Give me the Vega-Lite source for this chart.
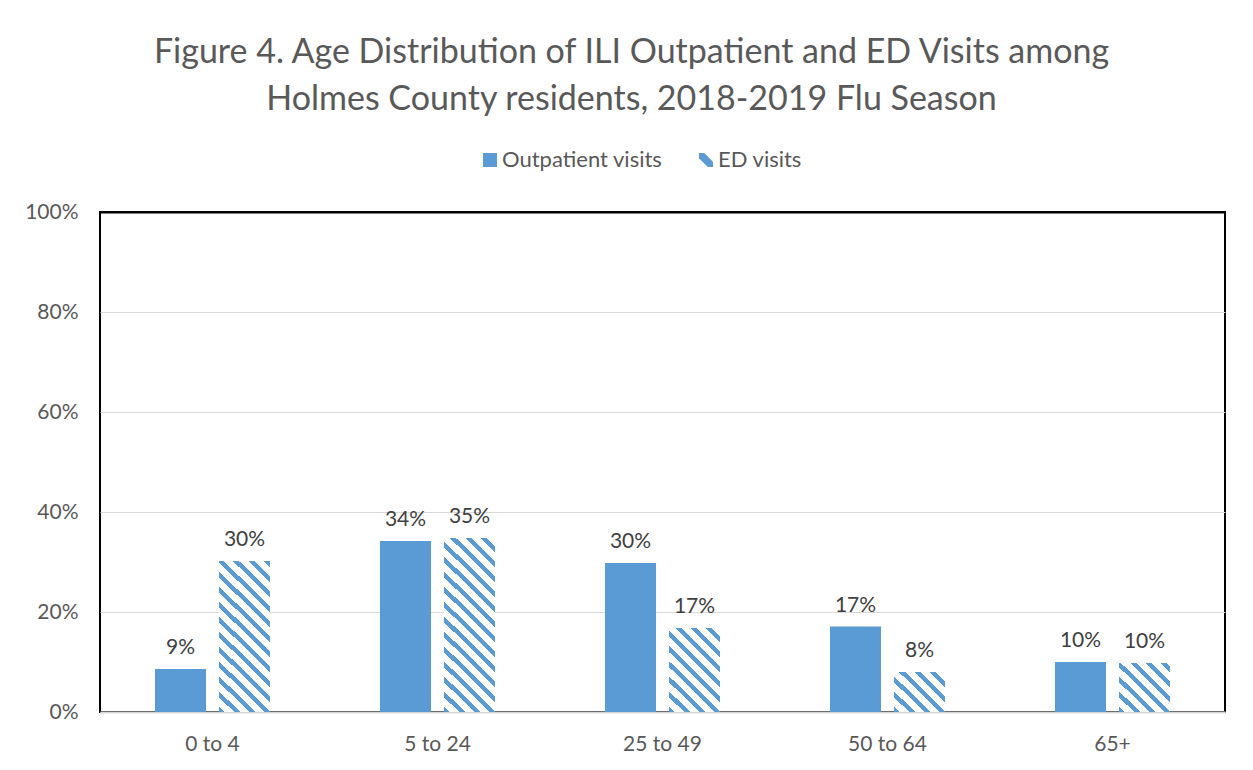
{
  "$schema": "https://vega.github.io/schema/vega-lite/v6.json",
  "width": 1125,
  "height": 500,
  "autosize": {"type": "none"},
  "padding": {"left": 100, "top": 212, "right": 28, "bottom": 58},
  "background": "white",
  "title": {
    "text": ["Figure 4. Age Distribution of ILI Outpatient and ED Visits among", "Holmes County residents, 2018-2019 Flu Season"],
    "anchor": "middle",
    "frame": "group",
    "dx": -31,
    "offset": 32,
    "font": "Lato",
    "fontSize": 34,
    "fontWeight": "normal",
    "color": "#595959",
    "lineHeight": 47
  },
  "data": {
    "values": [
      {"age": "0 to 4", "series": "Outpatient visits", "value": 0.086},
      {"age": "0 to 4", "series": "ED visits", "value": 0.302},
      {"age": "5 to 24", "series": "Outpatient visits", "value": 0.342},
      {"age": "5 to 24", "series": "ED visits", "value": 0.348},
      {"age": "25 to 49", "series": "Outpatient visits", "value": 0.298},
      {"age": "25 to 49", "series": "ED visits", "value": 0.168},
      {"age": "50 to 64", "series": "Outpatient visits", "value": 0.171},
      {"age": "50 to 64", "series": "ED visits", "value": 0.080},
      {"age": "65+", "series": "Outpatient visits", "value": 0.100},
      {"age": "65+", "series": "ED visits", "value": 0.098}
    ]
  },
  "encoding": {
    "x": {
      "field": "age", "type": "nominal",
      "sort": ["0 to 4", "5 to 24", "25 to 49", "50 to 64", "65+"],
      "scale": {"paddingInner": 0, "paddingOuter": 0},
      "axis": {"title": null, "labelAngle": 0, "ticks": false, "domainColor": "#D9D9D9", "domainWidth": 2, "labelPadding": 21, "labelFont": "Lato", "labelFontSize": 21, "labelColor": "#595959"}
    },
    "xOffset": {
      "field": "series", "type": "nominal",
      "sort": ["Outpatient visits", "ED visits"],
      "scale": {"paddingInner": 0.203, "paddingOuter": 0.859}
    },
    "y": {
      "field": "value", "type": "quantitative",
      "scale": {"domain": [0, 1], "nice": false},
      "axis": {"title": null, "format": ".0%", "values": [0, 0.2, 0.4, 0.6, 0.8, 1], "domain": false, "ticks": false,
        "gridColor": {"condition": {"test": "datum.value === 1", "value": "black"}, "value": "#D9D9D9"},
        "gridWidth": {"condition": {"test": "datum.value === 1", "value": 2}, "value": 1},
        "labelPadding": 22, "labelFont": "Lato", "labelFontSize": 21, "labelColor": "#595959"}
    }
  },
  "layer": [
    {
      "mark": {"type": "bar"},
      "encoding": {
        "color": {
          "condition": [
            {"test": "datum.series === 'ED visits' && datum.age === '0 to 4'", "value": {"gradient": "linear", "x1": 0, "y1": 1, "x2": 0.4216, "y2": -0.2483, "stops": [
              {"offset": 0, "color": "#5B9BD5"}, {"offset": 0.028571, "color": "#5B9BD5"}, {"offset": 0.028571, "color": "white"}, {"offset": 0.071429, "color": "white"},
              {"offset": 0.071429, "color": "#5B9BD5"}, {"offset": 0.1, "color": "#5B9BD5"}, {"offset": 0.1, "color": "white"}, {"offset": 0.142857, "color": "white"},
              {"offset": 0.142857, "color": "#5B9BD5"}, {"offset": 0.171429, "color": "#5B9BD5"}, {"offset": 0.171429, "color": "white"}, {"offset": 0.214286, "color": "white"},
              {"offset": 0.214286, "color": "#5B9BD5"}, {"offset": 0.242857, "color": "#5B9BD5"}, {"offset": 0.242857, "color": "white"}, {"offset": 0.285714, "color": "white"},
              {"offset": 0.285714, "color": "#5B9BD5"}, {"offset": 0.314286, "color": "#5B9BD5"}, {"offset": 0.314286, "color": "white"}, {"offset": 0.357143, "color": "white"},
              {"offset": 0.357143, "color": "#5B9BD5"}, {"offset": 0.385714, "color": "#5B9BD5"}, {"offset": 0.385714, "color": "white"}, {"offset": 0.428571, "color": "white"},
              {"offset": 0.428571, "color": "#5B9BD5"}, {"offset": 0.457143, "color": "#5B9BD5"}, {"offset": 0.457143, "color": "white"}, {"offset": 0.5, "color": "white"},
              {"offset": 0.5, "color": "#5B9BD5"}, {"offset": 0.528571, "color": "#5B9BD5"}, {"offset": 0.528571, "color": "white"}, {"offset": 0.571429, "color": "white"},
              {"offset": 0.571429, "color": "#5B9BD5"}, {"offset": 0.6, "color": "#5B9BD5"}, {"offset": 0.6, "color": "white"}, {"offset": 0.642857, "color": "white"},
              {"offset": 0.642857, "color": "#5B9BD5"}, {"offset": 0.671429, "color": "#5B9BD5"}, {"offset": 0.671429, "color": "white"}, {"offset": 0.714286, "color": "white"},
              {"offset": 0.714286, "color": "#5B9BD5"}, {"offset": 0.742857, "color": "#5B9BD5"}, {"offset": 0.742857, "color": "white"}, {"offset": 0.785714, "color": "white"},
              {"offset": 0.785714, "color": "#5B9BD5"}, {"offset": 0.814286, "color": "#5B9BD5"}, {"offset": 0.814286, "color": "white"}, {"offset": 0.857143, "color": "white"},
              {"offset": 0.857143, "color": "#5B9BD5"}, {"offset": 0.885714, "color": "#5B9BD5"}, {"offset": 0.885714, "color": "white"}, {"offset": 0.928571, "color": "white"},
              {"offset": 0.928571, "color": "#5B9BD5"}, {"offset": 0.957143, "color": "#5B9BD5"}, {"offset": 0.957143, "color": "white"}, {"offset": 1, "color": "white"}
            ]}},
            {"test": "datum.series === 'ED visits' && datum.age === '5 to 24'", "value": {"gradient": "linear", "x1": 0, "y1": 1, "x2": 0.349, "y2": -0.1908, "stops": [
              {"offset": 0, "color": "#5B9BD5"}, {"offset": 0.026667, "color": "#5B9BD5"}, {"offset": 0.026667, "color": "white"}, {"offset": 0.066667, "color": "white"},
              {"offset": 0.066667, "color": "#5B9BD5"}, {"offset": 0.093333, "color": "#5B9BD5"}, {"offset": 0.093333, "color": "white"}, {"offset": 0.133333, "color": "white"},
              {"offset": 0.133333, "color": "#5B9BD5"}, {"offset": 0.16, "color": "#5B9BD5"}, {"offset": 0.16, "color": "white"}, {"offset": 0.2, "color": "white"},
              {"offset": 0.2, "color": "#5B9BD5"}, {"offset": 0.226667, "color": "#5B9BD5"}, {"offset": 0.226667, "color": "white"}, {"offset": 0.266667, "color": "white"},
              {"offset": 0.266667, "color": "#5B9BD5"}, {"offset": 0.293333, "color": "#5B9BD5"}, {"offset": 0.293333, "color": "white"}, {"offset": 0.333333, "color": "white"},
              {"offset": 0.333333, "color": "#5B9BD5"}, {"offset": 0.36, "color": "#5B9BD5"}, {"offset": 0.36, "color": "white"}, {"offset": 0.4, "color": "white"},
              {"offset": 0.4, "color": "#5B9BD5"}, {"offset": 0.426667, "color": "#5B9BD5"}, {"offset": 0.426667, "color": "white"}, {"offset": 0.466667, "color": "white"},
              {"offset": 0.466667, "color": "#5B9BD5"}, {"offset": 0.493333, "color": "#5B9BD5"}, {"offset": 0.493333, "color": "white"}, {"offset": 0.533333, "color": "white"},
              {"offset": 0.533333, "color": "#5B9BD5"}, {"offset": 0.56, "color": "#5B9BD5"}, {"offset": 0.56, "color": "white"}, {"offset": 0.6, "color": "white"},
              {"offset": 0.6, "color": "#5B9BD5"}, {"offset": 0.626667, "color": "#5B9BD5"}, {"offset": 0.626667, "color": "white"}, {"offset": 0.666667, "color": "white"},
              {"offset": 0.666667, "color": "#5B9BD5"}, {"offset": 0.693333, "color": "#5B9BD5"}, {"offset": 0.693333, "color": "white"}, {"offset": 0.733333, "color": "white"},
              {"offset": 0.733333, "color": "#5B9BD5"}, {"offset": 0.76, "color": "#5B9BD5"}, {"offset": 0.76, "color": "white"}, {"offset": 0.8, "color": "white"},
              {"offset": 0.8, "color": "#5B9BD5"}, {"offset": 0.826667, "color": "#5B9BD5"}, {"offset": 0.826667, "color": "white"}, {"offset": 0.866667, "color": "white"},
              {"offset": 0.866667, "color": "#5B9BD5"}, {"offset": 0.893333, "color": "#5B9BD5"}, {"offset": 0.893333, "color": "white"}, {"offset": 0.933333, "color": "white"},
              {"offset": 0.933333, "color": "#5B9BD5"}, {"offset": 0.96, "color": "#5B9BD5"}, {"offset": 0.96, "color": "white"}, {"offset": 1, "color": "white"}
            ]}},
            {"test": "datum.series === 'ED visits' && datum.age === '25 to 49'", "value": {"gradient": "linear", "x1": 0, "y1": 1, "x2": 0.713, "y2": -0.1743, "stops": [
              {"offset": 0, "color": "#5B9BD5"}, {"offset": 0.044444, "color": "#5B9BD5"}, {"offset": 0.044444, "color": "white"}, {"offset": 0.111111, "color": "white"},
              {"offset": 0.111111, "color": "#5B9BD5"}, {"offset": 0.155556, "color": "#5B9BD5"}, {"offset": 0.155556, "color": "white"}, {"offset": 0.222222, "color": "white"},
              {"offset": 0.222222, "color": "#5B9BD5"}, {"offset": 0.266667, "color": "#5B9BD5"}, {"offset": 0.266667, "color": "white"}, {"offset": 0.333333, "color": "white"},
              {"offset": 0.333333, "color": "#5B9BD5"}, {"offset": 0.377778, "color": "#5B9BD5"}, {"offset": 0.377778, "color": "white"}, {"offset": 0.444444, "color": "white"},
              {"offset": 0.444444, "color": "#5B9BD5"}, {"offset": 0.488889, "color": "#5B9BD5"}, {"offset": 0.488889, "color": "white"}, {"offset": 0.555556, "color": "white"},
              {"offset": 0.555556, "color": "#5B9BD5"}, {"offset": 0.6, "color": "#5B9BD5"}, {"offset": 0.6, "color": "white"}, {"offset": 0.666667, "color": "white"},
              {"offset": 0.666667, "color": "#5B9BD5"}, {"offset": 0.711111, "color": "#5B9BD5"}, {"offset": 0.711111, "color": "white"}, {"offset": 0.777778, "color": "white"},
              {"offset": 0.777778, "color": "#5B9BD5"}, {"offset": 0.822222, "color": "#5B9BD5"}, {"offset": 0.822222, "color": "white"}, {"offset": 0.888889, "color": "white"},
              {"offset": 0.888889, "color": "#5B9BD5"}, {"offset": 0.933333, "color": "#5B9BD5"}, {"offset": 0.933333, "color": "white"}, {"offset": 1, "color": "white"}
            ]}},
            {"test": "datum.series === 'ED visits' && datum.age === '50 to 64'", "value": {"gradient": "linear", "x1": 0, "y1": 1, "x2": 1.2747, "y2": 0.0002, "stops": [
              {"offset": 0, "color": "#5B9BD5"}, {"offset": 0.057143, "color": "#5B9BD5"}, {"offset": 0.057143, "color": "white"}, {"offset": 0.142857, "color": "white"},
              {"offset": 0.142857, "color": "#5B9BD5"}, {"offset": 0.2, "color": "#5B9BD5"}, {"offset": 0.2, "color": "white"}, {"offset": 0.285714, "color": "white"},
              {"offset": 0.285714, "color": "#5B9BD5"}, {"offset": 0.342857, "color": "#5B9BD5"}, {"offset": 0.342857, "color": "white"}, {"offset": 0.428571, "color": "white"},
              {"offset": 0.428571, "color": "#5B9BD5"}, {"offset": 0.485714, "color": "#5B9BD5"}, {"offset": 0.485714, "color": "white"}, {"offset": 0.571429, "color": "white"},
              {"offset": 0.571429, "color": "#5B9BD5"}, {"offset": 0.628571, "color": "#5B9BD5"}, {"offset": 0.628571, "color": "white"}, {"offset": 0.714286, "color": "white"},
              {"offset": 0.714286, "color": "#5B9BD5"}, {"offset": 0.771429, "color": "#5B9BD5"}, {"offset": 0.771429, "color": "white"}, {"offset": 0.857143, "color": "white"},
              {"offset": 0.857143, "color": "#5B9BD5"}, {"offset": 0.914286, "color": "#5B9BD5"}, {"offset": 0.914286, "color": "white"}, {"offset": 1, "color": "white"}
            ]}},
            {"test": "datum.series === 'ED visits' && datum.age === '65+'", "value": {"gradient": "linear", "x1": 0, "y1": 1, "x2": 1.0706, "y2": -0.0286, "stops": [
              {"offset": 0, "color": "#5B9BD5"}, {"offset": 0.057143, "color": "#5B9BD5"}, {"offset": 0.057143, "color": "white"}, {"offset": 0.142857, "color": "white"},
              {"offset": 0.142857, "color": "#5B9BD5"}, {"offset": 0.2, "color": "#5B9BD5"}, {"offset": 0.2, "color": "white"}, {"offset": 0.285714, "color": "white"},
              {"offset": 0.285714, "color": "#5B9BD5"}, {"offset": 0.342857, "color": "#5B9BD5"}, {"offset": 0.342857, "color": "white"}, {"offset": 0.428571, "color": "white"},
              {"offset": 0.428571, "color": "#5B9BD5"}, {"offset": 0.485714, "color": "#5B9BD5"}, {"offset": 0.485714, "color": "white"}, {"offset": 0.571429, "color": "white"},
              {"offset": 0.571429, "color": "#5B9BD5"}, {"offset": 0.628571, "color": "#5B9BD5"}, {"offset": 0.628571, "color": "white"}, {"offset": 0.714286, "color": "white"},
              {"offset": 0.714286, "color": "#5B9BD5"}, {"offset": 0.771429, "color": "#5B9BD5"}, {"offset": 0.771429, "color": "white"}, {"offset": 0.857143, "color": "white"},
              {"offset": 0.857143, "color": "#5B9BD5"}, {"offset": 0.914286, "color": "#5B9BD5"}, {"offset": 0.914286, "color": "white"}, {"offset": 1, "color": "white"}
            ]}}
          ],
          "field": "series",
          "type": "nominal",
          "scale": {
            "domain": ["Outpatient visits", "ED visits"],
            "range": ["#5B9BD5", "#5B9BD5"]
          }
        }
      }
    },
    {
      "mark": {"type": "point", "filled": true, "opacity": 0},
      "encoding": {
        "color": {"field": "series", "type": "nominal"},
        "shape": {
          "field": "series", "type": "nominal",
          "scale": {
            "domain": ["Outpatient visits", "ED visits"],
            "range": ["square", "M-1,-1L-0.25,-1L1,0.25L1,1L0.25,1L-1,-0.25Z"]
          }
        }
      }
    },
    {
      "mark": {"type": "text", "baseline": "alphabetic", "dy": -15, "font": "Lato", "fontSize": 21, "color": "#404040"},
      "encoding": {
        "text": {"field": "value", "type": "quantitative", "format": ".0%"}
      }
    }
  ],
  "config": {
    "view": {"stroke": "black", "strokeWidth": 2},
    "legend": {
      "title": null,
      "orient": "none",
      "direction": "horizontal",
      "legendX": 379,
      "legendY": -63,
      "symbolSize": 196,
      "symbolStrokeWidth": 0,
      "symbolOpacity": 1,
      "labelFont": "Lato",
      "labelFontSize": 22,
      "labelLimit": 400,
      "labelColor": "#595959",
      "labelOffset": 1,
      "columnPadding": 32
    }
  }
}
